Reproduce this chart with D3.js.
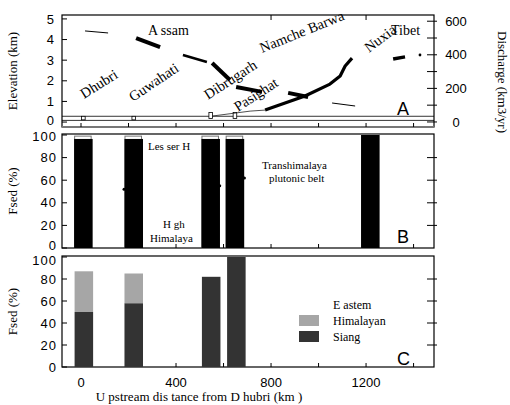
<!DOCTYPE html>
<html>
<head>
<meta charset="utf-8">
<script src="https://cdn.jsdelivr.net/npm/d3@7"></script>
<style>
  body { margin: 0; background: #fff; }
  svg text { fill: #000; }
  .num { font-family: "Liberation Sans", Arial, sans-serif; font-size: 13px; }
  .ser { font-family: "Liberation Serif", "Times New Roman", serif; }
</style>
</head>
<body>
<div id="chart"></div>
<script>
// ---- data ----
// stations along the river (distance upstream of Dhubri, km)
const stations = ["Dhubri", "Guwahati", "Dibrugarh", "Pasighat"];
const stationDist = [10, 222, 546, 648];
const stationElev = [0.18, 0.18, 0.22, 0.22];

// elevation profile (km)
const elevLowDist = [552, 712, 775];
const elevLow = [0.29, 0.53, 0.58];
const elevGorgeDist = [775, 859, 943, 1048, 1091, 1112, 1141];
const elevGorge = [0.58, 0.92, 1.26, 1.84, 2.23, 2.72, 3.1];
const elevTibetDist = [1314, 1364];
const elevTibet = [3.06, 3.16];
const elevDotDist = [1427];
const elevDot = [3.25];

// discharge (km3/yr), drawn as broken segments [from, to]
const dischargeDist = [[17, 114], [232, 333], [429, 530], [552, 627], [653, 762], [872, 956], [1057, 1154]];
const dischargeVal = [[542, 530], [500, 446], [399, 357], [351, 250], [208, 179], [173, 149], [113, 95]];
const dischargeWidth = [1, 4, 2.5, 4, 4, 4, 1];

// panel B: bedrock Fsed bars
const fsedBDist = [10, 222, 546, 648, 1218];
const fsedB = [96.5, 96.5, 96.5, 96.5, 100];
const fsedBTop = [99, 99, 99, 99, 100];
const fsedBPointDist = [181, 584, 688];
const fsedBPoint = [52, 55, 62];

// panel C: stacked Fsed
const fsedCDist = [12, 222, 548, 654];
const fsedSiang = [50, 58, 82, 100];
const fsedEastHim = [37, 27, 0, 0];

const xTicks = [0, 400, 800, 1200];
const elevTicks = [0, 1, 2, 3, 4, 5];
const qTicks = [0, 200, 400, 600];
const fsedTicks = [0, 20, 40, 60, 80, 100];

// ---- layout ----
const width = 510, height = 405;
const left = 62, right = 434;
const pA = { top: 15, bottom: 127 };
const pB = { top: 134, bottom: 248 };
const pC = { top: 256, bottom: 367 };
const barW = 78;

const svg = d3.select("#chart").append("svg")
  .attr("width", width).attr("height", height);

const x = d3.scaleLinear().domain([-80, 1486]).range([left, right]);
const yElev = d3.scaleLinear().domain([-0.24, 5.19]).range([pA.bottom, pA.top]);
const yQ = d3.scaleLinear().domain([-30, 637]).range([pA.bottom, pA.top]);
const yB = d3.scaleLinear().domain([0, 100]).range([pB.bottom, pB.top + 1]);
const yC = d3.scaleLinear().domain([0, 100]).range([pC.bottom, pC.top + 1]);
const bw = x(barW) - x(0);

// ---- panel frames and axes ----
function frame(p, col) {
  svg.append("rect")
    .attr("x", left).attr("y", p.top)
    .attr("width", right - left).attr("height", p.bottom - p.top)
    .attr("fill", "none").attr("stroke", col || "#000").attr("stroke-width", 1.2);
}

function bottomTicks(p, tv) {
  svg.append("g").selectAll("line")
    .data(tv).join("line")
    .attr("x1", d => x(d)).attr("x2", d => x(d))
    .attr("y1", p.bottom).attr("y2", p.bottom - 4)
    .attr("stroke", "#000");
}

// nudge: small offsets so stacked panels' end labels don't collide
function leftAxis(scale, tv, p, labelX, nudge) {
  const g = svg.append("g");
  g.selectAll("line").data(tv).join("line")
    .attr("x1", left).attr("x2", left + 5)
    .attr("y1", d => scale(d)).attr("y2", d => scale(d))
    .attr("stroke", "#000");
  g.selectAll("text").data(tv).join("text")
    .attr("class", "num")
    .attr("x", labelX).attr("y", d => scale(d) + ((nudge && nudge[d]) || 0))
    .attr("dy", "0.36em")
    .attr("text-anchor", "end")
    .style("letter-spacing", "1px")
    .text(d => d);
}

function rightTicks(scale, tv) {
  svg.append("g").selectAll("line").data(tv).join("line")
    .attr("x1", right - 7).attr("x2", right + 3)
    .attr("y1", d => scale(d)).attr("y2", d => scale(d))
    .attr("stroke", "#000");
}

// panel A
frame(pA);
svg.append("line").attr("x1", left).attr("x2", right)
  .attr("y1", pA.bottom).attr("y2", pA.bottom)
  .attr("stroke", "#777").attr("stroke-width", 2);
bottomTicks(pA, d3.range(0, 1401, 200));
svg.append("g").selectAll("line").data([800, 1200]).join("line")
  .attr("x1", d => x(d)).attr("x2", d => x(d))
  .attr("y1", pA.top).attr("y2", pA.top + 5)
  .attr("stroke", "#000");
leftAxis(yElev, elevTicks, pA, 55, { 0: -1.5 });
rightTicks(yQ, d3.range(0, 601, 100));
svg.append("g").selectAll("text").data(qTicks).join("text")
  .attr("class", "num")
  .attr("x", 456).attr("y", d => yQ(d))
  .attr("dy", "0.36em").attr("text-anchor", "middle")
  .text(d => d);

// panel B
frame(pB);
bottomTicks(pB, d3.range(0, 1401, 200));
leftAxis(yB, fsedTicks, pB, 57, { 100: 1, 0: -3 });
rightTicks(yB, [20, 40, 60, 80]);

// panel C
frame(pC);
bottomTicks(pC, d3.range(0, 1401, 200));
leftAxis(yC, fsedTicks, pC, 57, { 100: 3 });
rightTicks(yC, [20, 40, 60, 80]);

svg.append("g").selectAll("text").data(xTicks).join("text")
  .attr("class", "num")
  .attr("x", d => x(d)).attr("y", 387)
  .attr("text-anchor", "middle")
  .text(d => d);

// ---- panel A marks ----
// reference lines near sea level
svg.append("g").selectAll("line").data([0.28, 0.08]).join("line")
  .attr("x1", left).attr("x2", right)
  .attr("y1", d => yElev(d)).attr("y2", d => yElev(d))
  .attr("stroke", "#000").attr("stroke-width", 0.8);

svg.append("g").selectAll("rect").data(stationDist).join("rect")
  .attr("x", d => x(d) - 1.8)
  .attr("y", (d, i) => yElev(stationElev[i]) - (i > 1 ? 5 : 2))
  .attr("width", 3.6)
  .attr("height", (d, i) => i > 1 ? 6 : 3.5)
  .attr("fill", "#fff").attr("stroke", "#000").attr("stroke-width", 0.8);

const elevLine = d3.line().x(d => x(d[0])).y(d => yElev(d[1]));
svg.append("path")
  .attr("d", elevLine(d3.zip(elevLowDist, elevLow)))
  .attr("fill", "none").attr("stroke", "#222").attr("stroke-width", 0.8);
svg.append("path")
  .attr("d", elevLine(d3.zip(elevGorgeDist, elevGorge)))
  .attr("fill", "none").attr("stroke", "#000").attr("stroke-width", 3.2)
  .attr("stroke-linejoin", "round");
svg.append("path")
  .attr("d", elevLine(d3.zip(elevTibetDist, elevTibet)))
  .attr("fill", "none").attr("stroke", "#000").attr("stroke-width", 3.5);
svg.append("g").selectAll("circle").data(elevDotDist).join("circle")
  .attr("cx", d => x(d)).attr("cy", (d, i) => yElev(elevDot[i]))
  .attr("r", 1.4).attr("fill", "#000");

svg.append("g").selectAll("line").data(dischargeDist).join("line")
  .attr("x1", d => x(d[0])).attr("x2", d => x(d[1]))
  .attr("y1", (d, i) => yQ(dischargeVal[i][0]))
  .attr("y2", (d, i) => yQ(dischargeVal[i][1]))
  .attr("stroke", "#000")
  .attr("stroke-width", (d, i) => dischargeWidth[i]);

// rotated place names
const placeLabels = [
  { t: "Dhubri", x: 84, y: 99, a: -32 },
  { t: "Guwahati", x: 133, y: 102, a: -34 },
  { t: "Dibrugarh", x: 208, y: 100, a: -33 },
  { t: "Pasighat", x: 238, y: 112, a: -33 },
  { t: "Namche Barwa", x: 262, y: 53, a: -22 },
  { t: "Nuxia", x: 369, y: 53, a: -37 }
];
svg.append("g").selectAll("text").data(placeLabels).join("text")
  .attr("class", "ser")
  .attr("transform", d => `translate(${d.x},${d.y}) rotate(${d.a})`)
  .style("font-size", "14.5px")
  .text(d => d.t);

svg.append("text").attr("class", "ser").attr("x", 148).attr("y", 35)
  .style("font-size", "14px").text("A ssam");
svg.append("text").attr("class", "ser").attr("x", 391).attr("y", 35)
  .style("font-size", "14px").text("Tibet");

// ---- panel B marks ----
svg.append("g").selectAll("rect").data(fsedBDist).join("rect")
  .attr("x", d => x(d - barW / 2) + 0.5)
  .attr("y", (d, i) => yB(fsedBTop[i]))
  .attr("width", bw - 2)
  .attr("height", (d, i) => yB(0) - yB(fsedBTop[i]))
  .attr("fill", "#fff").attr("stroke", "#777").attr("stroke-width", 1);
svg.append("g").selectAll("rect.bar").data(fsedBDist).join("rect")
  .attr("x", d => x(d - barW / 2))
  .attr("y", (d, i) => yB(fsedB[i]))
  .attr("width", bw)
  .attr("height", (d, i) => yB(0) - yB(fsedB[i]))
  .attr("fill", "#000");
svg.append("g").selectAll("circle").data(fsedBPointDist).join("circle")
  .attr("cx", d => x(d)).attr("cy", (d, i) => yB(fsedBPoint[i]))
  .attr("r", 1.5).attr("fill", "#000");

const noteB = [
  { t: "Les ser H", x: 148, y: 150 },
  { t: "H gh", x: 163, y: 228 },
  { t: "Himalaya", x: 150, y: 242 },
  { t: "Transhimalaya", x: 262, y: 169 },
  { t: "plutonic belt", x: 269, y: 182 }
];
svg.append("g").selectAll("text").data(noteB).join("text")
  .attr("class", "ser")
  .attr("x", d => d.x).attr("y", d => d.y)
  .style("font-size", "11px")
  .text(d => d.t);

// ---- panel C marks ----
svg.append("g").selectAll("rect").data(fsedCDist).join("rect")
  .attr("x", d => x(d) - bw / 2)
  .attr("y", (d, i) => yC(fsedSiang[i]))
  .attr("width", bw)
  .attr("height", (d, i) => yC(0) - yC(fsedSiang[i]))
  .attr("fill", "#333");
svg.append("g").selectAll("rect").data(fsedCDist).join("rect")
  .attr("x", d => x(d) - bw / 2)
  .attr("y", (d, i) => yC(fsedSiang[i] + fsedEastHim[i]))
  .attr("width", bw)
  .attr("height", (d, i) => yC(fsedSiang[i]) - yC(fsedSiang[i] + fsedEastHim[i]))
  .attr("fill", "#a6a6a6");

// legend
svg.append("text").attr("class", "ser").attr("x", 333).attr("y", 309)
  .style("font-size", "12px").text("E astem");
const legend = [{ t: "Himalayan", c: "#a6a6a6" }, { t: "Siang", c: "#333" }];
const lg = svg.append("g").selectAll("g").data(legend).join("g")
  .attr("transform", (d, i) => `translate(299,${315 + i * 16})`);
lg.append("rect").attr("width", 20).attr("height", 11).attr("fill", d => d.c);
lg.append("text").attr("class", "ser").attr("x", 34).attr("y", 10)
  .style("font-size", "12px").text(d => d.t);

// panel letters
[["A", 115], ["B", 243], ["C", 365]].forEach(([t, yb]) => {
  svg.append("text").attr("class", "num")
    .attr("x", 397).attr("y", yb)
    .style("font-size", "18px").text(t);
});

// axis titles
svg.append("text").attr("class", "ser")
  .attr("transform", "translate(17,71) rotate(-90)")
  .attr("text-anchor", "middle").style("font-size", "13px")
  .text("Elevation (km)");
[pB, pC].forEach(p => {
  svg.append("text").attr("class", "ser")
    .attr("transform", `translate(17,${(p.top + p.bottom) / 2}) rotate(-90)`)
    .attr("text-anchor", "middle").style("font-size", "13px")
    .text("Fsed (%)");
});
svg.append("text").attr("class", "ser")
  .attr("transform", "translate(498,82) rotate(90)")
  .attr("text-anchor", "middle").style("font-size", "13px")
  .text("Discharge (km3/yr)");
svg.append("text").attr("class", "ser")
  .attr("x", 199).attr("y", 401)
  .attr("text-anchor", "middle").style("font-size", "13px")
  .text("U pstream dis tance from D hubri (km )");
</script>
</body>
</html>
